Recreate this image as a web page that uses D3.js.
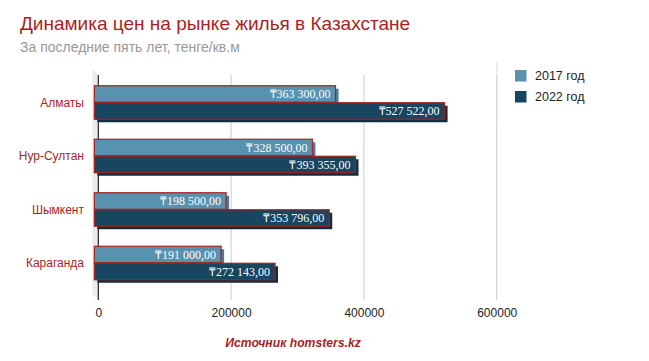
<!DOCTYPE html>
<html><head><meta charset="utf-8">
<script src="https://cdn.jsdelivr.net/npm/d3@7"></script>
<style>body{margin:0;background:#fff}svg{display:block}</style>
</head><body><svg id="c" width="649" height="361"></svg>
<script>
const categories = ["Алматы", "Нур-Султан", "Шымкент", "Караганда"];
const seriesNames = ["2017 год", "2022 год"];
const values2017 = [363300, 328500, 198500, 191000];
const values2022 = [527522, 393355, 353796, 272143];
const tickValues = [0, 200000, 400000, 600000];

const colors = ["#5892ae", "#184560"];
const shadowColors = ["#47809b", "#0f2e40"];
const borderColor = "#a81f1f";

const svg = d3.select("#c");
const depth = 4;
const x = d3.scaleLinear().domain([0, 600000]).range([98.3, 496.7]);
const y = d3.scaleBand().domain(categories).range([75.75, 289.75]).paddingInner(0.374).paddingOuter(0.187);
const ySub = d3.scaleBand().domain([0, 1]).range([0, y.bandwidth()]).paddingInner(0.03);

// title
svg.append("text").attr("x", 20).attr("y", 30).attr("font-family", "Liberation Sans, Arial, sans-serif")
  .attr("font-size", 19).attr("fill", "#a81f1f").text("Динамика цен на рынке жилья в Казахстане");
svg.append("text").attr("x", 20).attr("y", 52).attr("font-family", "Liberation Sans, Arial, sans-serif")
  .attr("font-size", 14).attr("fill", "#999").text("За последние пять лет, тенге/кв.м");

// left wall
svg.append("polygon").attr("points", [[x(0)-6,69],[x(0),75],[x(0),300],[x(0)-6,294]].join(" ")).attr("fill", "#ececec");

// grid
const grid = svg.append("g");
grid.selectAll("line").data(tickValues.slice(1)).join("line")
  .attr("x1", d => x(d)).attr("x2", d => x(d)).attr("y1", 75).attr("y2", 300)
  .attr("stroke", "#cccccc").attr("stroke-width", 1);
svg.append("line").attr("x1", x(0)).attr("x2", x(0)).attr("y1", 75).attr("y2", 300).attr("stroke", "#222").attr("stroke-width", 1.2);

// x axis labels
const xAxis = d3.axisBottom(x).tickValues(tickValues).tickSize(0).tickFormat(d3.format("d"));
const ga = svg.append("g").attr("transform", "translate(0,303)").call(xAxis);
ga.select(".domain").remove();
ga.selectAll("text").attr("font-family", "Liberation Sans, Arial, sans-serif").attr("font-size", 12).attr("fill", "#222").attr("dy", "0.95em");

// category labels
svg.append("g").selectAll("text").data(categories).join("text")
  .attr("x", 84).attr("y", d => y(d) + y.bandwidth()/2).attr("dy", "0.35em")
  .attr("text-anchor", "end").attr("font-family", "Liberation Sans, Arial, sans-serif")
  .attr("font-size", 12).attr("fill", "#a81f1f").text(d => d);

// bars
const fmt = v => "₸" + d3.format(",")(v).replace(/,/g, " ") + ",00";
const data = [];
categories.forEach((c, i) => {
  [values2017[i], values2022[i]].forEach((v, s) => data.push({c, s, v}));
});
const bx0 = x(0) - depth;
const bars = svg.append("g");
data.forEach(d => {
  const top = y(d.c) + ySub(d.s);
  const h = ySub.bandwidth();
  const w = x(d.v) - x(0);
  bars.append("rect").attr("x", bx0 + 3).attr("y", top + 3).attr("width", w).attr("height", h).attr("fill", shadowColors[d.s]);
});
data.forEach(d => {
  const top = y(d.c) + ySub(d.s);
  const h = ySub.bandwidth();
  const w = x(d.v) - x(0);
  bars.append("rect").attr("x", bx0).attr("y", top).attr("width", w).attr("height", h)
    .attr("fill", colors[d.s]).attr("stroke", borderColor).attr("stroke-width", 1.2);
  bars.append("text").attr("x", bx0 + w - 5).attr("y", top + h/2).attr("dy", "0.36em")
    .attr("text-anchor", "end").attr("font-family", "Liberation Serif, Times New Roman, serif")
    .attr("font-size", 12).attr("fill", "#fff").text(fmt(d.v));
});

// legend
svg.append("line").attr("x1", 497).attr("x2", 497).attr("y1", 62).attr("y2", 121).attr("stroke", "#ddd");
const lg = svg.append("g").selectAll("g").data(seriesNames).join("g")
  .attr("transform", (d, i) => `translate(515,${70 + i*21})`);
lg.append("rect").attr("width", 11.5).attr("height", 11.5).attr("fill", (d, i) => colors[i]);
lg.append("text").attr("x", 20).attr("y", 6).attr("dy", "0.35em").attr("font-family", "Liberation Sans, Arial, sans-serif")
  .attr("font-size", 12.5).attr("fill", "#222").text(d => d);

// source
svg.append("text").attr("x", 293).attr("y", 347).attr("text-anchor", "middle")
  .attr("font-family", "Liberation Sans, Arial, sans-serif").attr("font-size", 12.2)
  .attr("font-weight", "bold").attr("font-style", "italic").attr("fill", "#a81f1f").text("Источник homsters.kz");
</script></body></html>
